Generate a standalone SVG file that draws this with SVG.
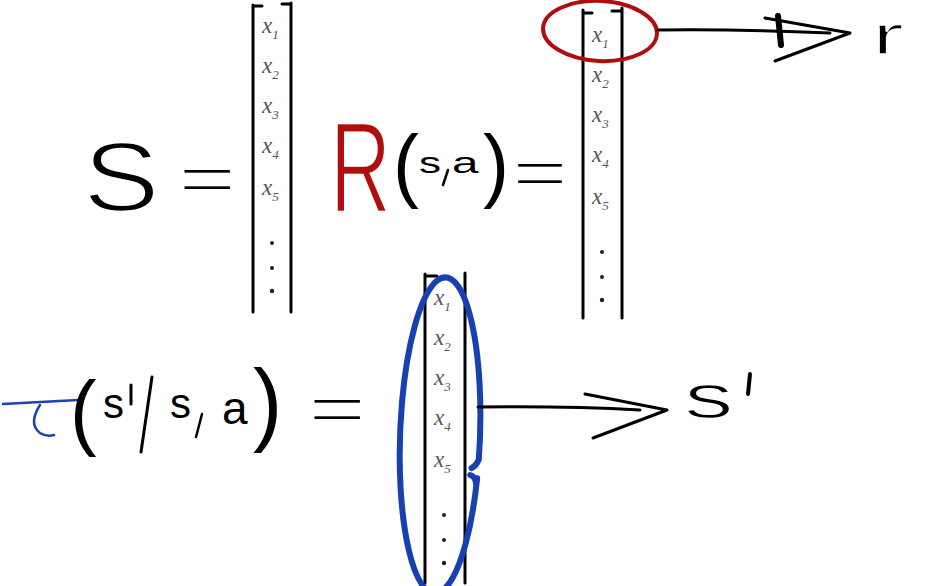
<svg xmlns="http://www.w3.org/2000/svg" width="927" height="586" viewBox="0 0 927 586">
<style>
.ink{fill:none;stroke:#000;stroke-linecap:round;stroke-linejoin:round}
.br{fill:none;stroke:#000;stroke-width:3;stroke-linecap:round}
.ent{font-family:"Liberation Serif",serif;font-style:italic;font-size:23px;fill:#555}
.sub{font-size:13px}
.big{font-family:"Liberation Sans",sans-serif;fill:#000}
.thin{stroke:#fff;stroke-width:2.5}
.eq{stroke:#fff;stroke-width:2.5}
.dot{fill:#222}
</style>
<defs>
<g id="entries">
<text class="ent" x="0" y="0">x<tspan class="sub" dy="6">1</tspan></text>
<text class="ent" x="0" y="40">x<tspan class="sub" dy="6">2</tspan></text>
<text class="ent" x="0" y="80">x<tspan class="sub" dy="6">3</tspan></text>
<text class="ent" x="0" y="120">x<tspan class="sub" dy="6">4</tspan></text>
<text class="ent" x="0" y="162">x<tspan class="sub" dy="6">5</tspan></text>
<circle class="dot" cx="10" cy="210" r="2"/>
<circle class="dot" cx="10" cy="235" r="2"/>
<circle class="dot" cx="10" cy="258" r="2.2"/>
</g>
</defs>

<g id="state-S">
<text class="big thin" x="0" y="0" font-size="100" transform="translate(83,211) scale(1.15,0.98)">S</text>
<text class="big eq" x="0" y="0" font-size="80" transform="translate(178,201) scale(1.25,0.8)">=</text>
</g>

<g id="matrix-s">
<path class="br" d="M253,5 V312 M291,3 V312 M253,6 H262 M282,4 H291"/>
<use href="#entries" x="262" y="33"/>
</g>

<g id="reward-R">
<text class="big thin" x="0" y="0" font-size="130" transform="translate(330,212) scale(0.65,1)" style="fill:#b00d0d">R</text>
<text class="big" x="0" y="0" font-size="78" transform="translate(393,192) scale(1,1.05)">(</text>
<text class="big" x="0" y="0" font-size="34" transform="translate(419,173) scale(1.3,0.85)">s</text>
<path class="ink" stroke-width="2.5" d="M448,170 L443,185"/>
<text class="big" x="0" y="0" font-size="34" transform="translate(452,173) scale(1.4,0.85)">a</text>
<text class="big" x="0" y="0" font-size="78" transform="translate(483,192) scale(1,1.05)">)</text>
<text class="big eq" x="0" y="0" font-size="80" transform="translate(512,195) scale(1.2,0.8)">=</text>
</g>

<g id="matrix-r">
<path class="br" d="M583,10 V318 M622,8 V318 M583,13 H592 M612,11 H622"/>
<use href="#entries" x="592" y="42"/>
</g>

<g id="transition-T">
<path d="M3,404 Q40,402 78,400 M40,405 Q28,424 40,433 Q46,437 54,435" fill="none" stroke="#1a45b0" stroke-width="2.5" stroke-linecap="round"/>
<text class="big" x="0" y="0" font-size="80" transform="translate(70,440) scale(1,1.05)">(</text>
<text class="big" x="103" y="418" font-size="42">s</text>
<path class="ink" stroke-width="3" d="M131,385 V404 M152,377 L141,452"/>
<text class="big" x="170" y="418" font-size="42">s</text>
<path class="ink" stroke-width="2.5" d="M202,414 L196,437"/>
<text class="big" x="222" y="424" font-size="46">a</text>
<text class="big" x="0" y="0" font-size="88" transform="translate(253,434) scale(1,1.05)">)</text>
<text class="big eq" x="0" y="0" font-size="80" transform="translate(308,431) scale(1.25,0.8)">=</text>
</g>

<g id="matrix-s-prime">
<path class="br" d="M425,274 V583 M465,273 V583 M425,276 H437"/>
<use href="#entries" x="434" y="305"/>
</g>

<g id="highlights">
<ellipse cx="600" cy="31" rx="57" ry="30" transform="rotate(3 600 31)" fill="none" stroke="#b00d0d" stroke-width="4"/>
<g fill="none" stroke="#1840b0" stroke-width="6" stroke-linecap="round" transform="rotate(2 441 425)">
<path d="M479,477 A40 158 0 1 1 480,458 Q478,464 473,467"/>
<path d="M472,474 Q477,475 478,482"/>
</g>
</g>

<g id="label-r">
<text class="big thin" x="0" y="0" font-size="40" transform="translate(872,54) scale(2.4,1.4)" style="stroke-width:1">r</text>
</g>

<g id="label-s-prime">
<text class="big thin" x="0" y="0" font-size="62" transform="translate(684,418) scale(1.6,1)" style="stroke-width:1.5">s</text>
<path class="ink" stroke-width="4" d="M750,374 L748,394"/>
</g>

<g id="connectors">
<path class="ink" stroke-width="3" d="M658,30 Q740,29 830,33"/>
<path class="ink" stroke-width="3" d="M765,18 L850,33 L775,61"/>
<path class="ink" stroke-width="6" d="M778,16 L781,45"/>
<path class="ink" stroke-width="3" d="M478,407 Q570,406 640,410"/>
<path class="ink" stroke-width="3" d="M585,394 L667,410 L593,438"/>
</g>
</svg>
